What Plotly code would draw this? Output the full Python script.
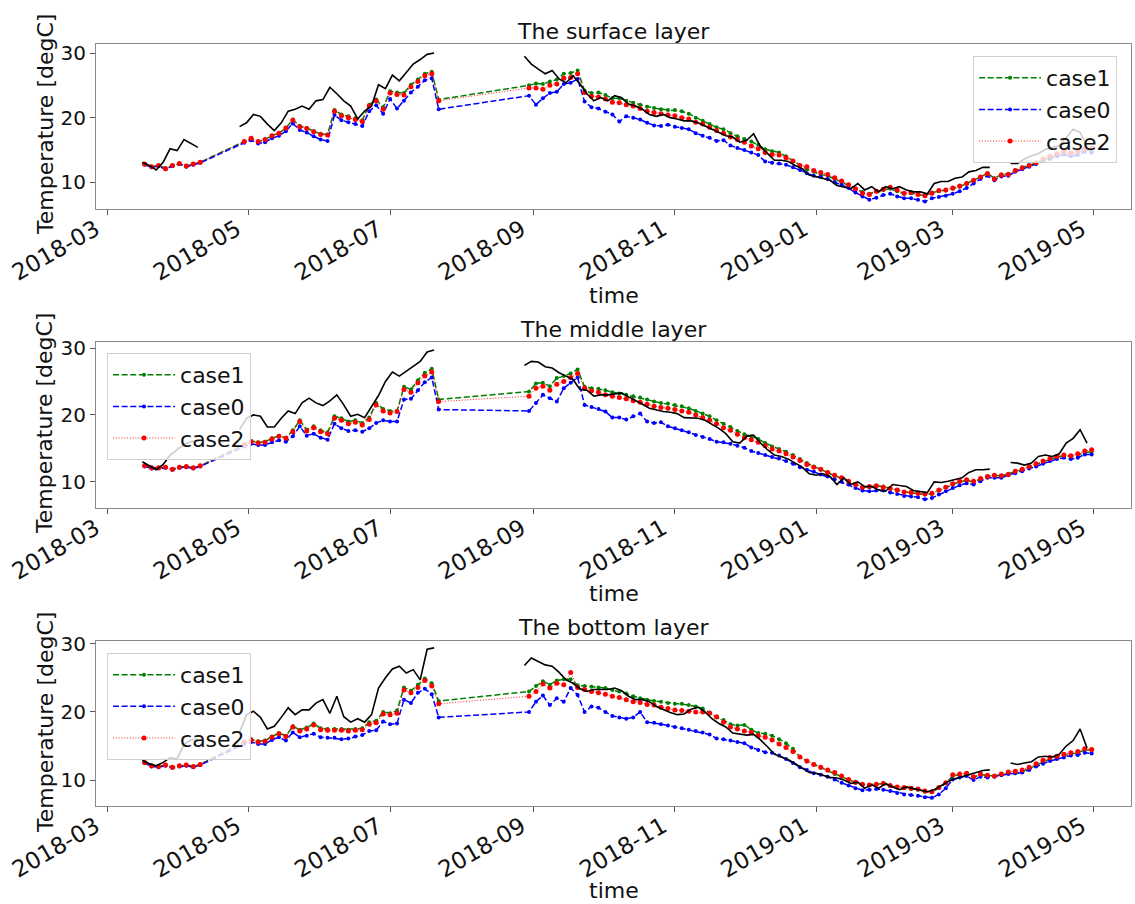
import pandas as pd
import plotly.graph_objects as go

# ---------------------------------------------------------------------------
# Sampling dates
# ---------------------------------------------------------------------------
# Model output: three continuous runs, sampled every 3 days
model_dates = (
    list(pd.date_range("2018-03-17", "2018-04-10", freq="3D"))
    + list(pd.date_range("2018-04-29", "2018-07-22", freq="3D"))
    + list(pd.date_range("2018-08-30", "2019-04-30", freq="3D"))
)
# Observations: every 3 days, None where the mooring has no record
obs_dates = list(pd.date_range("2018-03-16", "2019-04-28", freq="3D"))

# ---------------------------------------------------------------------------
# Surface layer (degC)
# ---------------------------------------------------------------------------
surface_case1 = [
    12.8, 12.4, 12.6, 12.2, 12.6, 12.9, 12.5, 12.8, 13.1,
    16.3, 16.8, 16.3, 16.6, 17.2, 17.6, 18.4, 19.7, 18.7, 18.4,
    17.9, 17.5, 17.4, 21.2, 20.5, 20.2, 19.9, 19.6, 22.0, 22.8,
    21.6, 24.1, 23.9, 23.8, 25.1, 25.9, 26.8, 27.1, 22.8,
    25.0, 25.3, 25.2, 25.6, 25.9, 26.8, 26.9, 27.3,
    24.2, 23.8, 23.9, 23.5, 23.0, 23.0, 22.6, 22.3,
    22.0, 21.7, 21.5, 21.3, 21.2, 21.2, 21.0, 20.6,
    20.0, 19.5, 19.0, 18.5, 18.2, 17.6, 17.1, 16.7,
    16.3, 15.8, 15.1, 14.8, 14.6, 14.0, 13.3, 12.6,
    12.0, 11.6, 11.2, 11.0, 10.5, 10.0, 9.5, 9.0,
    8.5, 8.2, 8.6, 8.8, 9.0, 8.6, 8.2, 8.3,
    8.1, 7.9, 8.4, 8.6, 8.7, 9.0, 9.3, 9.8,
    10.2, 10.8, 11.4, 10.6, 11.2, 11.3, 11.8, 12.3,
    12.6, 13.0, 13.5, 13.8, 14.2, 14.6, 14.3, 14.6,
    15.0, 15.0,
]
surface_case0 = [
    12.7, 12.3, 12.5, 12.0, 12.5, 12.8, 12.4, 12.7, 13.0,
    16.1, 16.5, 16.0, 16.2, 16.8, 17.2, 17.9, 19.1, 18.1, 17.7,
    17.1, 16.6, 16.4, 20.4, 19.6, 19.3, 19.0, 18.7, 21.0, 21.9,
    20.6, 22.9, 21.4, 22.6, 23.9, 24.8, 25.8, 26.1, 21.3,
    23.4, 22.0, 23.0, 23.8, 24.0, 25.2, 25.4, 26.0,
    22.5, 21.6, 21.4, 20.9, 20.5, 19.4, 20.2, 20.0,
    19.7, 19.2, 18.8, 18.7, 18.9, 18.6, 18.4, 18.2,
    17.6, 17.2, 16.9, 16.4, 16.5, 15.7, 15.3, 15.0,
    14.6, 14.2, 13.2, 13.0, 12.9, 12.7, 12.3, 11.9,
    11.4, 11.0, 10.8, 10.5, 10.0, 9.6, 9.1, 8.4,
    7.8, 7.3, 7.6, 8.0, 8.2, 7.8, 7.5, 7.5,
    7.3, 7.0, 7.5, 7.7, 7.9, 8.2, 8.6, 9.1,
    9.8, 10.5, 11.0, 10.3, 10.9, 11.0, 11.6, 12.0,
    12.4, 12.8, 13.3, 13.6, 14.0, 14.3, 14.0, 14.2,
    14.7, 14.6,
]
surface_case2 = [
    12.8, 12.4, 12.6, 12.1, 12.6, 12.9, 12.5, 12.8, 13.1,
    16.3, 16.8, 16.3, 16.6, 17.2, 17.6, 18.4, 19.6, 18.6, 18.3,
    17.8, 17.4, 17.3, 21.0, 20.3, 20.0, 19.7, 19.4, 21.8, 22.6,
    21.3, 23.8, 23.6, 23.5, 24.8, 25.6, 26.5, 26.8, 22.6,
    24.6, 24.6, 24.4, 25.0, 25.2, 26.1, 26.2, 26.8,
    23.9, 23.3, 23.2, 22.9, 22.4, 22.3, 22.0, 21.8,
    21.4, 21.0, 20.8, 20.6, 20.4, 20.3, 20.0, 19.8,
    19.3, 19.0, 18.5, 18.0, 17.6, 17.0, 16.6, 16.2,
    15.6, 15.2, 14.6, 14.3, 14.2, 13.8, 13.3, 12.6,
    12.4, 11.8, 11.5, 11.2, 10.7, 10.2, 9.6, 9.0,
    8.3, 8.1, 8.6, 8.9, 9.2, 8.8, 8.3, 8.4,
    8.1, 7.9, 8.3, 8.7, 8.8, 9.1, 9.4, 9.8,
    10.3, 10.8, 11.3, 10.5, 11.1, 11.2, 11.8, 12.2,
    12.6, 13.0, 13.6, 14.0, 14.4, 14.8, 14.5, 14.8,
    15.2, 15.3,
]
surface_obs = [
    13.1, 12.6, 11.9, 13.1, 15.2, 14.9, 16.6, 16.0, 15.4, None,
    None, None, None, None, 18.6, 19.2, 20.5, 20.2, 19.0, 18.0,
    19.2, 21.0, 21.3, 21.8, 21.3, 22.6, 22.8, 24.7, 23.7, 22.6,
    21.8, 19.8, 21.0, 21.8, 25.1, 24.5, 26.6, 25.7, 27.0, 28.3,
    29.0, 29.8, 30.0, None, None, None, None, None, None, None,
    None, None, None, None, None, 29.5, 28.3, 27.5, 26.8, 27.3,
    26.0, 25.4, 26.5, 25.2, 23.7, 22.6, 23.1, 22.6, 23.4, 23.1,
    22.1, 21.8, 21.3, 20.5, 20.2, 20.5, 20.0, 19.8, 19.5, 19.5,
    19.2, 18.7, 18.2, 17.7, 17.2, 17.0, 16.2, 16.5, 17.5, 15.5,
    14.4, 13.4, 13.4, 13.2, 12.6, 12.1, 11.1, 10.8, 10.6, 10.3,
    9.5, 9.3, 9.0, 9.8, 8.8, 9.3, 8.5, 9.3, 9.0, 9.3,
    8.8, 8.5, 8.5, 8.2, 9.8, 10.1, 10.1, 10.6, 10.8, 11.6,
    11.8, 12.3, 12.3, None, None, 12.9, 12.9, 13.6, 14.1, 14.4,
    15.1, 15.4, 15.6, 16.9, 18.2, 17.7, 15.6,
]

# ---------------------------------------------------------------------------
# Middle layer (degC)
# ---------------------------------------------------------------------------
middle_case1 = [
    12.4, 12.1, 12.1, 12.2, 11.9, 12.2, 12.3, 12.1, 12.4,
    15.6, 16.1, 15.9, 16.0, 16.5, 16.9, 16.6, 17.7, 19.2, 17.8,
    18.3, 17.7, 17.4, 19.8, 19.5, 19.0, 19.2, 18.8, 19.6, 21.8,
    20.9, 20.6, 20.6, 24.2, 23.8, 25.2, 26.3, 26.9, 22.3,
    23.5, 24.7, 24.8, 24.3, 25.5, 25.8, 26.2, 26.8,
    24.2, 24.0, 23.9, 23.7, 23.4, 23.2, 23.0, 22.8,
    22.6, 22.3, 22.0, 21.8, 21.7, 21.5, 21.3, 21.0,
    20.6, 20.2, 19.8, 19.2, 18.7, 18.2, 17.6, 17.1,
    16.8, 16.4, 15.8, 15.3, 14.9, 14.5, 14.0, 13.4,
    12.8, 12.3, 11.8, 11.4, 10.9, 10.5, 10.1, 9.6,
    9.2, 9.2, 9.4, 9.3, 9.1, 8.8, 8.5, 8.4,
    8.3, 8.1, 8.2, 8.7, 9.2, 9.6, 10.0, 10.2,
    10.0, 10.4, 10.8, 11.0, 10.9, 11.2, 11.5, 11.8,
    12.2, 12.6, 13.0, 13.4, 13.7, 13.9, 13.8, 14.0,
    14.4, 14.5,
]
middle_case0 = [
    12.3, 12.0, 12.0, 12.1, 11.8, 12.1, 12.2, 12.0, 12.3,
    15.3, 15.7, 15.5, 15.5, 15.9, 16.2, 16.0, 16.8, 18.3, 16.9,
    17.2, 16.6, 16.3, 18.7, 18.0, 17.6, 17.7, 17.5, 18.0, 18.8,
    19.2, 19.0, 19.0, 22.3, 22.4, 23.7, 24.9, 25.6, 20.8,
    20.6, 21.8, 23.0, 22.5, 22.0, 24.0, 24.8, 25.6,
    21.5, 21.2, 20.9, 20.5, 19.6, 19.6, 19.3, 19.8,
    20.2, 19.0, 18.8, 18.9, 18.3, 18.0, 17.7, 17.4,
    17.0, 16.7, 16.4, 16.0, 15.9, 15.7, 15.4, 15.1,
    14.6, 14.3, 14.0, 13.7, 13.5, 13.1, 12.7, 12.2,
    11.8, 11.5, 11.1, 10.8, 10.4, 10.0, 9.6, 9.1,
    8.7, 8.6, 8.7, 8.7, 8.4, 8.2, 7.9, 7.8,
    7.7, 7.4, 7.6, 8.1, 8.6, 9.1, 9.5, 9.8,
    9.6, 10.1, 10.6, 10.6, 10.6, 11.0, 11.3, 11.6,
    12.0, 12.3, 12.7, 13.1, 13.4, 13.6, 13.4, 13.6,
    14.1, 14.1,
]
middle_case2 = [
    12.4, 12.1, 12.1, 12.2, 11.9, 12.2, 12.3, 12.1, 12.4,
    15.5, 16.0, 15.8, 15.9, 16.4, 16.8, 16.5, 17.5, 19.0, 17.6,
    18.1, 17.5, 17.2, 19.5, 19.2, 18.7, 18.9, 18.5, 19.3, 21.5,
    20.6, 20.3, 20.5, 23.8, 23.4, 24.8, 25.8, 26.4, 22.0,
    22.8, 24.0, 24.3, 23.7, 24.6, 25.0, 25.6, 26.2,
    24.0, 23.6, 23.4, 23.0, 22.8, 22.6, 22.4, 22.1,
    21.9, 21.6, 21.3, 21.1, 21.0, 20.8, 20.6, 20.4,
    20.0, 19.6, 19.2, 18.7, 18.1, 17.7, 17.1, 16.6,
    16.3, 15.9, 15.4, 14.9, 14.6, 14.2, 13.7, 13.2,
    12.6, 12.2, 11.9, 11.4, 11.0, 10.6, 10.1, 9.6,
    9.2, 9.3, 9.4, 9.2, 9.0, 8.8, 8.5, 8.4,
    8.3, 8.2, 8.3, 8.8, 9.2, 9.7, 10.1, 10.3,
    10.1, 10.5, 10.8, 11.0, 10.9, 11.1, 11.6, 11.9,
    12.3, 12.7, 13.1, 13.5, 13.8, 14.0, 13.9, 14.2,
    14.6, 14.8,
]
middle_obs = [
    13.0, 12.4, 11.8, 12.6, 14.0, 14.8, 15.6, 16.0, 16.2, None,
    None, None, None, None, 17.8, 19.5, 20.0, 19.8, 18.2, 18.2,
    19.5, 20.6, 20.2, 21.8, 22.5, 21.8, 21.4, 22.1, 23.0, 21.5,
    19.8, 20.1, 19.6, 21.2, 22.9, 25.0, 26.4, 25.8, 26.5, 27.3,
    28.0, 29.4, 29.7, None, None, None, None, None, None, None,
    None, None, None, None, None, 27.4, 28.0, 27.9, 27.2, 27.0,
    26.3, 25.8, 25.3, 23.8, 23.7, 22.8, 23.0, 23.0, 23.2, 23.3,
    22.7, 22.2, 21.6, 21.0, 20.7, 20.5, 20.4, 20.2, 19.6, 19.6,
    19.5, 19.2, 18.6, 18.0, 17.2, 16.0, 15.8, 16.8, 17.0, 15.8,
    14.8, 14.0, 13.8, 13.4, 12.8, 12.2, 11.2, 11.0, 11.2, 10.8,
    9.6, 10.6, 9.6, 10.0, 9.3, 9.3, 8.8, 8.6, 9.6, 9.4,
    9.3, 8.7, 8.5, 8.4, 10.0, 9.9, 10.1, 10.3, 10.6, 11.4,
    11.8, 11.8, 11.9, None, None, 12.9, 12.8, 12.5, 12.8, 13.8,
    14.0, 13.8, 14.2, 15.8, 16.5, 17.8, 15.8,
]

# ---------------------------------------------------------------------------
# Bottom layer (degC)
# ---------------------------------------------------------------------------
bottom_case1 = [
    12.6, 12.1, 12.0, 12.2, 11.9, 12.1, 12.2, 12.0, 12.3,
    15.6, 16.0, 15.7, 15.8, 16.4, 16.9, 16.5, 17.9, 17.4, 17.7,
    18.3, 17.6, 17.5, 17.5, 17.5, 17.4, 17.5, 17.6, 18.5, 18.7,
    20.0, 19.8, 20.2, 23.6, 23.1, 24.0, 24.9, 24.2, 21.6,
    23.0, 23.8, 24.5, 24.0, 24.6, 24.8, 24.8, 23.9,
    23.8, 23.7, 23.6, 23.5, 23.2, 23.0, 22.7, 22.3,
    22.0, 21.8, 21.6, 21.5, 21.3, 21.2, 21.2, 21.0,
    20.8, 20.5, 19.9, 19.2, 18.8, 18.2, 18.0, 18.1,
    17.4, 16.9, 16.8, 16.5, 16.0, 15.4, 14.6, 13.4,
    12.8, 12.3, 11.8, 11.4, 10.9, 10.5, 10.0, 9.6,
    9.3, 9.3, 9.4, 9.5, 9.1, 9.0, 8.8, 8.7,
    8.6, 8.3, 8.3, 8.8, 9.5, 10.6, 10.8, 10.9,
    10.4, 10.8, 10.7, 10.6, 10.8, 11.0, 11.0, 11.2,
    11.7, 12.2, 12.7, 13.1, 13.4, 13.6, 13.9, 14.0,
    14.4, 14.4,
]
bottom_case0 = [
    12.5, 12.0, 11.9, 12.1, 11.8, 12.0, 12.1, 11.9, 12.2,
    15.3, 15.6, 15.3, 15.3, 15.9, 16.3, 15.8, 17.0, 16.3, 16.5,
    16.8, 16.3, 16.2, 16.2, 16.0, 16.1, 16.4, 16.6, 17.2, 17.3,
    18.6, 18.2, 18.3, 21.8, 21.3, 22.8, 23.4, 22.6, 19.2,
    20.0, 21.5, 22.4, 21.0, 22.0, 21.5, 23.5, 22.5,
    20.0, 20.8, 20.6, 20.0, 19.4, 19.2, 19.0, 19.2,
    20.0, 18.5, 18.4, 18.2, 18.0, 17.8, 17.6, 17.4,
    17.2, 17.0, 16.7, 16.1, 16.0, 15.8, 15.6, 15.4,
    14.8, 14.4, 14.1, 14.0, 13.6, 13.1, 12.5, 11.9,
    11.5, 11.0, 10.8, 10.5, 10.1, 9.6, 9.2, 8.8,
    8.5, 8.6, 8.7, 8.6, 8.4, 8.1, 7.9, 7.8,
    7.7, 7.5, 7.4, 7.9, 8.8, 10.1, 10.4, 10.6,
    10.0, 10.5, 10.4, 10.5, 10.7, 10.9, 11.0, 11.1,
    11.5, 12.0, 12.4, 12.8, 13.1, 13.3, 13.6, 13.7,
    14.0, 13.9,
]
bottom_case2 = [
    12.6, 12.1, 12.0, 12.2, 11.9, 12.1, 12.2, 12.0, 12.3,
    15.5, 15.9, 15.6, 15.7, 16.3, 16.8, 16.4, 17.8, 17.2, 17.5,
    18.1, 17.4, 17.3, 17.3, 17.3, 17.2, 17.3, 17.4, 18.2, 18.4,
    19.7, 19.6, 19.8, 23.2, 22.8, 23.6, 24.6, 23.8, 21.2,
    22.3, 23.0, 24.1, 23.5, 24.2, 24.0, 25.8, 23.6,
    23.3, 23.0, 22.8, 22.6, 22.3, 22.1, 21.8, 21.5,
    21.4, 21.1, 21.0, 20.7, 20.5, 20.3, 20.2, 20.1,
    20.0, 20.0, 19.8, 19.3, 18.5, 17.8, 17.5, 17.2,
    17.0, 16.5, 16.3, 15.9, 15.3, 14.8, 14.2, 13.4,
    12.8, 12.3, 11.9, 11.5, 11.1, 10.6, 10.1, 9.7,
    9.4, 9.3, 9.4, 9.5, 9.2, 9.0, 8.9, 8.8,
    8.7, 8.4, 8.3, 8.9, 9.6, 10.8, 10.9, 11.0,
    10.5, 10.9, 10.7, 10.6, 10.9, 11.2, 11.3, 11.5,
    11.9, 12.4, 12.9, 13.3, 13.5, 13.8, 14.0, 14.2,
    14.6, 14.5,
]
bottom_obs = [
    12.9, 12.4, 12.1, 12.6, 13.3, 13.1, 15.2, 15.9, 16.0, None,
    None, None, None, None, 17.0, 19.6, 20.1, 19.2, 17.5, 17.9,
    19.2, 20.6, 19.6, 20.3, 20.3, 21.3, 21.8, 19.8, 22.3, 19.3,
    18.5, 19.0, 18.5, 19.6, 23.5, 25.0, 26.3, 26.7, 25.7, 26.2,
    24.7, 29.2, 29.4, None, None, None, None, None, None, None,
    None, None, None, None, None, 26.8, 27.9, 27.4, 26.9, 26.7,
    25.8, 24.7, 24.2, 23.4, 23.0, 23.3, 23.3, 23.3, 23.5, 23.1,
    22.3, 21.8, 21.8, 21.5, 20.8, 20.3, 19.9, 19.6, 19.7, 20.4,
    20.7, 20.0, 19.0, 18.3, 17.8, 16.9, 16.7, 16.6, 16.7, 15.9,
    14.9, 13.8, 13.4, 13.0, 12.4, 11.8, 11.1, 11.0, 10.7, 10.4,
    10.3, 10.0, 9.5, 9.7, 8.8, 9.3, 8.8, 9.5, 9.0, 8.6,
    9.0, 8.8, 8.5, 8.3, 8.6, 9.2, 9.8, 10.2, 10.5, 10.9,
    11.2, 11.4, 11.5, None, None, 12.5, 12.3, 12.5, 12.7, 13.4,
    13.5, 13.4, 13.8, 15.0, 15.8, 17.5, 14.7,
]

# Axis ticks
y_ticks = [10, 20, 30]
x_ticks = ["2018-03-01", "2018-05-01", "2018-07-01", "2018-09-01",
           "2018-11-01", "2019-01-01", "2019-03-01", "2019-05-01"]

# ---------------------------------------------------------------------------
# Figure
# ---------------------------------------------------------------------------
FONT = "DejaVu Sans"
X_DOMAIN = [0.0846, 0.9965]
X_RANGE = ["2018-02-24", "2019-05-17"]

panels = [
    dict(title="The surface layer", c1=surface_case1, c0=surface_case0,
         c2=surface_case2, obs=surface_obs, ydom=[0.7688, 0.9513],
         yrange=[5.85, 31.4], title_y=0.9657, time_y=0.6726, ylab_y=0.8628,
         leg=dict(x=0.8573, y=0.9380)),
    dict(title="The middle layer", c1=middle_case1, c0=middle_case0,
         c2=middle_case2, obs=middle_obs, ydom=[0.4381, 0.6217],
         yrange=[6.1, 30.9], title_y=0.6360, time_y=0.3440, ylab_y=0.5321,
         leg=dict(x=0.0943, y=0.6095)),
    dict(title="The bottom layer", c1=bottom_case1, c0=bottom_case0,
         c2=bottom_case2, obs=bottom_obs, ydom=[0.1084, 0.2909],
         yrange=[6.2, 30.4], title_y=0.3064, time_y=0.0150, ylab_y=0.2013,
         leg=dict(x=0.0943, y=0.2777)),
]

case_styles = [
    ("case1", "c1", dict(color="#008000", width=1.5, dash="6px,2.6px"), 4),
    ("case0", "c0", dict(color="#0000ff", width=1.5, dash="6px,2.6px"), 4),
    ("case2", "c2", dict(color="#ff0000", width=0.9, dash="1px,1.8px"), 5),
]

fig = go.Figure()
annotations = []
layout = dict(
    width=1135, height=904, autosize=False,
    margin=dict(l=0, r=0, t=0, b=0, pad=0),
    paper_bgcolor="white", plot_bgcolor="white",
    font=dict(family=FONT, color="#111111", size=20),
    showlegend=True,
)

for i, p in enumerate(panels):
    n = "" if i == 0 else str(i + 1)
    xa, ya = "x" + n, "y" + n
    leg_name = "legend" + n
    for name, key, line, msize in case_styles:
        vals = p[key]
        assert len(vals) == len(model_dates), (p["title"], name, len(vals))
        fig.add_trace(go.Scatter(
            x=model_dates, y=vals, name=name, mode="lines+markers",
            line=line, marker=dict(size=msize, color=line["color"]),
            xaxis=xa, yaxis=ya, legend=leg_name, legendgroup=name + n,
        ))
    assert len(p["obs"]) == len(obs_dates), (p["title"], len(p["obs"]))
    fig.add_trace(go.Scatter(
        x=obs_dates, y=p["obs"], mode="lines", name="obs",
        line=dict(color="#000000", width=1.6), showlegend=False,
        xaxis=xa, yaxis=ya, connectgaps=False,
    ))

    axis_common = dict(
        automargin=False,
        showline=True, linecolor="#8a8a8a", linewidth=1.2, mirror=True,
        ticks="outside", ticklen=5, tickwidth=1, tickcolor="#555555",
        showgrid=False, zeroline=False,
    )
    layout["xaxis" + n] = dict(
        axis_common, domain=X_DOMAIN, anchor=ya, type="date", range=X_RANGE,
        tickmode="array", tickvals=x_ticks, tickformat="%Y-%m", tickangle=-30,
        tickfont=dict(family=FONT, size=23, color="#111111"),
        ticklabelstandoff=-8, ticklabelshift=-12,
    )
    layout["yaxis" + n] = dict(
        axis_common, domain=p["ydom"], anchor=xa, range=p["yrange"],
        tickmode="array", tickvals=y_ticks,
        tickfont=dict(family=FONT, size=20, color="#111111"),
    )
    layout[leg_name] = dict(
        x=p["leg"]["x"], y=p["leg"]["y"], xanchor="left", yanchor="top",
        bgcolor="rgba(255,255,255,0.8)", bordercolor="#d0d0d0", borderwidth=1,
        font=dict(family=FONT, size=22, color="#111111"),
        tracegroupgap=8, traceorder="normal", itemwidth=62,
    )

    mid_x = (X_DOMAIN[0] + X_DOMAIN[1]) / 2
    annotations.append(dict(
        text=p["title"], x=mid_x, y=p["title_y"], xref="paper", yref="paper",
        xanchor="center", yanchor="middle", showarrow=False,
        font=dict(family=FONT, size=22, color="#111111"),
    ))
    annotations.append(dict(
        text="time", x=mid_x, y=p["time_y"], xref="paper", yref="paper",
        xanchor="center", yanchor="middle", showarrow=False,
        font=dict(family=FONT, size=22, color="#111111"),
    ))
    annotations.append(dict(
        text="Temperature [degC]", x=0.0396, y=p["ylab_y"], xref="paper",
        yref="paper", xanchor="center", yanchor="middle", textangle=-90,
        showarrow=False, font=dict(family=FONT, size=22, color="#111111"),
    ))

layout["annotations"] = annotations
fig.update_layout(**layout)
fig.write_html("out.html")
